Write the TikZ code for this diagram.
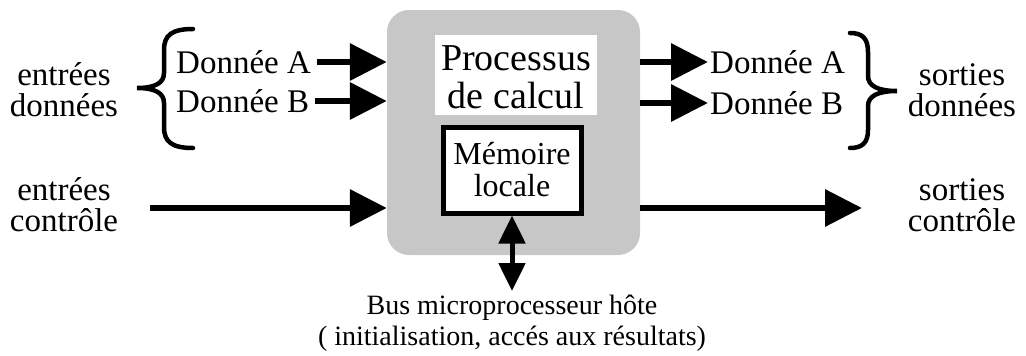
\documentclass[tikz,border=0pt]{standalone}
\usepackage{fontspec}
\setmainfont{Liberation Serif}
\usetikzlibrary{arrows.meta,calc}
\begin{document}
\begin{tikzpicture}[x=1pt,y=-1pt,
  txt/.style={font=\fontsize{33}{31}\selectfont, align=center, inner sep=0pt},
  bigtxt/.style={font=\fontsize{38}{38}\selectfont, align=center, inner sep=0pt},
  bigarrow/.style={line width=6.5pt, -{Triangle[length=37pt,width=36pt]}},
  busarrow/.style={line width=5pt, {Triangle[length=28pt,width=26pt]}-{Triangle[length=28pt,width=26pt]}},
  bracestyle/.style={line width=4.5pt, line cap=round}]
\useasboundingbox (0,0) rectangle (1026,356);
% shaded process block
\node[fill=black!22, rounded corners=22pt, minimum width=253pt, minimum height=245pt, inner sep=0pt] (proc) at (513.5,132.5) {};
\node[fill=white, minimum width=162pt, minimum height=80pt, inner sep=0pt] (titlebg) at (516,75) {};
\node[bigtxt] (title) at (516,77) {Processus\\de calcul};
\node[draw, line width=5pt, fill=white, minimum width=138pt, minimum height=86pt, inner sep=0pt] (mem) at (512,170) {};
\node[font=\fontsize{32}{32}\selectfont, align=center, inner sep=0pt] (memtxt) at (512,170) {Mémoire\\locale};
% left inputs
\node[txt] (ind) at (64,90) {entrées\\données};
\node[txt, anchor=west] (inA) at (176,62) {Donnée A};
\node[txt, anchor=west] (inB) at (176,101) {Donnée B};
\draw[bigarrow, shorten <=6pt] (inA.east) -- (inA.east -| proc.west);
\draw[bigarrow, shorten <=6pt] (inB.east) -- (inB.east -| proc.west);
\coordinate (lbT) at (193,29);
\coordinate (lbB) at (193,148);
\coordinate (lbTip) at (137,88);
\draw[bracestyle] (lbT) .. controls (172,29) and (164,35) .. (164,50) -- (164,73)
  .. controls (164,83) and (155,88) .. (lbTip)
  .. controls (155,88) and (164,93) .. (164,103) -- (164,127)
  .. controls (164,142) and (172,148) .. (lbB);
% right outputs
\node[txt, anchor=west] (outA) at (710,62) {Donnée A};
\node[txt, anchor=west] (outB) at (710,103) {Donnée B};
\draw[bigarrow, shorten >=2pt] (outA.west -| proc.east) -- (outA.west);
\draw[bigarrow, shorten >=2pt] (outB.west -| proc.east) -- (outB.west);
\node[txt] (outd) at (962,90) {sorties\\données};
\coordinate (rbT) at (850,33);
\coordinate (rbB) at (850,148);
\coordinate (rbTip) at (897,91);
\draw[bracestyle] (rbT) .. controls (862,33) and (868,38) .. (868,52) -- (868,76)
  .. controls (868,86) and (878,91) .. (rbTip)
  .. controls (878,91) and (868,96) .. (868,106) -- (868,130)
  .. controls (868,143) and (862,148) .. (rbB);
% control
\node[txt] (inc) at (64,205) {entrées\\contrôle};
\node[txt] (outc) at (962,205) {sorties\\contrôle};
\coordinate (cl) at (150,208);
\coordinate (cr) at (862,208);
\draw[bigarrow] (cl) -- (cl -| proc.west);
\draw[bigarrow] (cl -| proc.east) -- (cr);
% bus
\node[font=\fontsize{28}{31}\selectfont, align=center, inner sep=0pt] (bus) at (512,323) {Bus microprocesseur hôte\\( initialisation, accés aux résultats)};
\draw[busarrow] (mem.south) -- (512,291);
\end{tikzpicture}
\end{document}
